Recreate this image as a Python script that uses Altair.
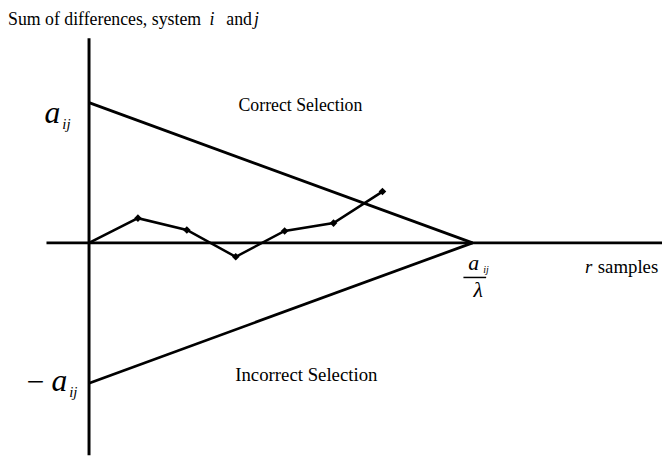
import altair as alt
import pandas as pd

# ---- data ----
samples = [0, 1, 2, 3, 4, 5, 6]
diff_sum = [0.0, 1.76, 0.92, -0.99, 0.85, 1.41, 3.66]
a_ij = 10.0
lam = 1.275                      # a_ij / lambda = apex of the triangle
apex = a_ij / lam

x_domain = [-1.657, 11.717]
y_domain = [-15.14, 16.55]
v_axis_top = 14.58
h_axis_left = -0.87

SERIF = "'Times New Roman', 'Liberation Serif', Times, serif"

xs = alt.Scale(domain=x_domain, nice=False, zero=False)
ys = alt.Scale(domain=y_domain, nice=False, zero=False)

walk = pd.DataFrame({"x": samples, "y": diff_sum})
bounds = pd.DataFrame({
    "x": [0, apex, 0, apex],
    "y": [a_ij, 0, -a_ij, 0],
    "side": ["upper", "upper", "lower", "lower"],
})
vaxis = pd.DataFrame({"x": [0], "y": [v_axis_top], "y2": [y_domain[0]]})
haxis = pd.DataFrame({"y": [0], "x": [h_axis_left], "x2": [x_domain[1]]})

base_x = alt.X("x:Q", scale=xs, axis=None)
base_y = alt.Y("y:Q", scale=ys, axis=None)

v_rule = alt.Chart(vaxis).mark_rule(color="black", strokeWidth=3).encode(
    x=base_x, y=base_y, y2="y2:Q")
h_rule = alt.Chart(haxis).mark_rule(color="black", strokeWidth=2.6).encode(
    y=base_y, x=base_x, x2="x2:Q")
bound_lines = alt.Chart(bounds).mark_line(color="black", strokeWidth=2.8).encode(
    x=base_x, y=base_y, detail="side:N")
walk_line = alt.Chart(walk).mark_line(color="black", strokeWidth=2.6).encode(
    x=base_x, y=base_y)
walk_pts = alt.Chart(walk.iloc[1:]).mark_point(
    shape="diamond", filled=True, size=60, color="black", opacity=1).encode(
    x=base_x, y=base_y)

dummy = pd.DataFrame({"d": [0]})


def label(text, x, y, size, italic=False, align="left"):
    return alt.Chart(dummy).mark_text(
        text=text, font=SERIF, fontSize=size, align=align,
        baseline="alphabetic", color="black",
        fontStyle="italic" if italic else "normal",
    ).encode(x=alt.value(x), y=alt.value(y))


frac_bar = alt.Chart(dummy).mark_rule(color="black", strokeWidth=1.5).encode(
    x=alt.value(461), x2=alt.value(484), y=alt.value(270))

labels = [
    label("Sum of differences, system", 0, 14, 18),
    label("i", 204, 14, 18, True),
    label("and", 221, 14, 18),
    label("j", 249, 14, 18, True),
    label("a", 37, 114, 32, True),
    label("ij", 55, 120, 15, True),
    label("\u2212", 19, 386, 32),
    label("a", 44, 385, 32, True),
    label("ij", 62, 391, 15, True),
    label("Correct Selection", 296, 102, 18, align="center"),
    label("Incorrect Selection", 302, 375, 19, align="center"),
    label("a", 466, 262, 22, True),
    label("ij", 481, 265, 10, True),
    label("\u03bb", 476, 290, 22, True, align="center"),
    label("r", 584, 265, 19, True),
    label("samples", 597, 265, 19),
]

chart = alt.layer(
    v_rule, h_rule, bound_lines, walk_line, walk_pts, frac_bar, *labels
).properties(
    width=662, height=450, autosize=alt.AutoSizeParams(type="none"), padding=0
).configure_view(stroke=None)

chart.save("out.html", embed_options={"renderer": "svg", "actions": False})
